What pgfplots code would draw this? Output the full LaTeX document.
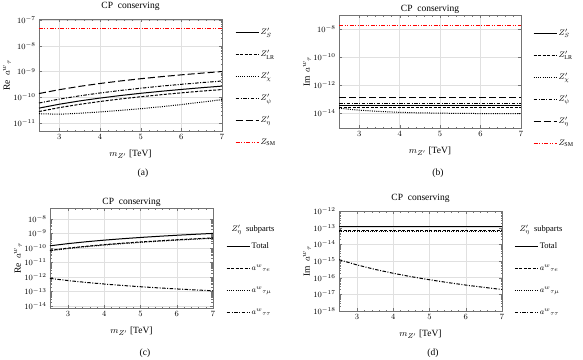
\documentclass[border=0pt]{standalone}
\usepackage{fontspec}
\setmainfont{Liberation Serif}
\usepackage{pgfplots}
\pgfplotsset{compat=1.18}

\tikzset{
  zs/.style={black, solid},
  zlr/.style={black, dash pattern=on 3pt off 1.5pt},
  zchi/.style={black, dash pattern=on 1pt off 1.2pt},
  zpsi/.style={black, dash pattern=on 3.5pt off 1.5pt on 1pt off 1.5pt},
  zeta/.style={black, dash pattern=on 7pt off 3pt},
  zsm/.style={red, dash pattern=on 4pt off 1.5pt on 1pt off 1.5pt on 1pt off 1.5pt},
}

\pgfplotsset{
  panel/.style={
    scale only axis, anchor=north west,
    xmin=2.5, xmax=7, xtick={3,4,5,6,7}, minor x tick num=4,
    grid=major, major grid style={black!12, line width=0.5pt},
    axis line style={black!55}, tick style={black!55},
    major tick length=3pt, minor tick length=1.5pt,
    tick label style={font=\fontsize{8.5}{9}\selectfont},
    title={CP\ \ conserving},
    every axis title/.style={at={(axis description cs:0.5,1)}, anchor=center,
      font=\fontsize{9.5}{10}\selectfont},
    xlabel={$m_{Z'}$ [TeV]},
    every axis x label/.style={at={(axis description cs:0.5,0)}, anchor=center,
      yshift=-23.5pt, font=\fontsize{9.5}{10}\selectfont},
    every axis y label/.style={at={(axis description cs:0,0.5)}, rotate=90,
      anchor=center, yshift=32pt, font=\fontsize{9.5}{10}\selectfont},
    every axis plot/.append style={line width=1pt},
    legend image code/.code={\draw[##1] (0pt,0pt) -- (23pt,0pt);},
    legend style={anchor=north west, draw=none, fill=none, inner sep=0pt,
      row sep=9pt, font=\fontsize{8.5}{9}\selectfont,
      nodes={inner sep=1.5pt, text height=7pt, text depth=3pt}},
    legend cell align=left,
  },
}

\begin{document}
\begin{tikzpicture}
\useasboundingbox (0,0) rectangle (583pt,-359pt);

% (a)
\begin{semilogyaxis}[panel, at={(39pt,-19pt)}, width=183pt, height=112pt,
  ymin=4.9e-12, ymax=1.1e-7, ytick={1e-11,1e-10,1e-9,1e-8,1e-7},
  ylabel={Re\ \,$a^{w}{}_{\tau}$},
  title style={yshift=13pt},
  legend style={at={(axis description cs:1.071,0.94)}}]
\addplot[zs] coordinates {(2.5,3.8e-11) (3,5.38e-11) (3.5,7.23e-11) (4,9.33e-11) (4.5,1.17e-10) (5,1.43e-10) (5.5,1.71e-10) (6,2.02e-10) (6.5,2.36e-10) (7,2.72e-10)};
\addlegendentry{$Z'_{S}$}
\addplot[zlr] coordinates {(2.5,2.8e-11) (3,3.97e-11) (3.5,5.33e-11) (4,6.87e-11) (4.5,8.61e-11) (5,1.05e-10) (5.5,1.26e-10) (6,1.49e-10) (6.5,1.74e-10) (7,2.0e-10)};
\addlegendentry{$Z'_{\mathrm{LR}}$}
\addplot[zchi] coordinates {(2.5,2.3e-11) (3,2.2e-11) (3.5,2.4e-11) (4,2.7e-11) (4.5,3.1e-11) (5,3.6e-11) (5.5,4.3e-11) (6,5.2e-11) (6.5,6.5e-11) (7,8.1e-11)};
\addlegendentry{$Z'_{\chi}$}
\addplot[zpsi] coordinates {(2.5,6.0e-11) (3,8.5e-11) (3.5,1.14e-10) (4,1.47e-10) (4.5,1.84e-10) (5,2.25e-10) (5.5,2.71e-10) (6,3.19e-10) (6.5,3.72e-10) (7,4.29e-10)};
\addlegendentry{$Z'_{\psi}$}
\addplot[zeta] coordinates {(2.5,1.40e-10) (3,1.98e-10) (3.5,2.66e-10) (4,3.44e-10) (4.5,4.30e-10) (5,5.26e-10) (5.5,6.31e-10) (6,7.45e-10) (6.5,8.68e-10) (7,1.00e-9)};
\addlegendentry{$Z'_{\eta}$}
\addplot[zsm] coordinates {(2.5,4.5e-8) (7,4.5e-8)};
\addlegendentry{$Z_{\mathrm{SM}}$}
\end{semilogyaxis}

% (b)
\begin{semilogyaxis}[panel, at={(339pt,-15pt)}, width=182pt, height=113pt,
  ymin=8.5e-16, ymax=1.02e-7, ytick={1e-14,1e-12,1e-10,1e-8},
  ylabel={Im\ \,$a^{w}{}_{\tau}$},
  title style={yshift=6pt},
  legend style={at={(axis description cs:1.066,0.90)}}]
\addplot[zs] coordinates {(2.5,3.7e-14) (7,3.7e-14)};
\addlegendentry{$Z'_{S}$}
\addplot[zlr] coordinates {(2.5,2.4e-14) (7,2.4e-14)};
\addlegendentry{$Z'_{\mathrm{LR}}$}
\addplot[zchi] coordinates {(2.5,2.2e-14) (3,1.6e-14) (3.5,1.3e-14) (4,1.12e-14) (4.5,1.03e-14) (5,9.8e-15) (5.5,9.4e-15) (6,9.2e-15) (6.5,9.1e-15) (7,9.0e-15)};
\addlegendentry{$Z'_{\chi}$}
\addplot[zpsi] coordinates {(2.5,5.1e-14) (7,5.1e-14)};
\addlegendentry{$Z'_{\psi}$}
\addplot[zeta] coordinates {(2.5,1.23e-13) (7,1.23e-13)};
\addlegendentry{$Z'_{\eta}$}
\addplot[red, draw=red, line width=1pt,
  dash pattern=on 4pt off 1.5pt on 1pt off 1.5pt on 1pt off 1.5pt]
  coordinates {(2.5,1.73e-8) (4.75,1.73e-8) (7,1.73e-8)};
\addlegendentry{$Z_{\mathrm{SM}}$}
\end{semilogyaxis}

% (c)
\begin{semilogyaxis}[panel, at={(50pt,-208pt)}, width=163pt, height=100pt,
  ymin=7.3e-15, ymax=5.6e-8, ytick={1e-14,1e-13,1e-12,1e-11,1e-10,1e-9,1e-8},
  ylabel={Re\ \,$a^{w}{}_{\tau}$},
  title style={yshift=6pt},
  legend style={at={(axis description cs:1.08,0.68)}}]
\addplot[zs] coordinates {(2.5,1.40e-10) (3,1.98e-10) (3.5,2.66e-10) (4,3.44e-10) (4.5,4.30e-10) (5,5.26e-10) (5.5,6.31e-10) (6,7.45e-10) (6.5,8.68e-10) (7,1.00e-9)};
\addlegendentry{Total}
\addplot[zlr] coordinates {(2.5,6.86e-11) (3,9.70e-11) (3.5,1.30e-10) (4,1.69e-10) (4.5,2.11e-10) (5,2.58e-10) (5.5,3.09e-10) (6,3.65e-10) (6.5,4.25e-10) (7,4.90e-10)};
\addlegendentry{$a^{w}{}_{\tau e}$}
\addplot[zchi] coordinates {(2.5,6.44e-11) (3,9.11e-11) (3.5,1.22e-10) (4,1.58e-10) (4.5,1.98e-10) (5,2.42e-10) (5.5,2.90e-10) (6,3.43e-10) (6.5,3.99e-10) (7,4.60e-10)};
\addlegendentry{$a^{w}{}_{\tau\mu}$}
\addplot[zpsi] coordinates {(2.5,8.0e-13) (3,5.65e-13) (3.5,4.21e-13) (4,3.26e-13) (4.5,2.60e-13) (5,2.13e-13) (5.5,1.77e-13) (6,1.50e-13) (6.5,1.29e-13) (7,1.12e-13)};
\addlegendentry{$a^{w}{}_{\tau\tau}$}
\end{semilogyaxis}

% (d)
\begin{semilogyaxis}[panel, at={(339pt,-211pt)}, width=163pt, height=100pt,
  ymin=1e-18, ymax=1e-12, ytick={1e-18,1e-17,1e-16,1e-15,1e-14,1e-13,1e-12},
  ylabel={Im\ \,$a^{w}{}_{\tau}$},
  title style={yshift=13pt},
  legend style={at={(axis description cs:1.074,0.71)}}]
\addplot[zs] coordinates {(2.5,1.25e-13) (7,1.25e-13)};
\addlegendentry{Total}
\addplot[zlr] coordinates {(2.5,6.4e-14) (7,6.4e-14)};
\addlegendentry{$a^{w}{}_{\tau e}$}
\addplot[zchi] coordinates {(2.5,5.6e-14) (7,5.6e-14)};
\addlegendentry{$a^{w}{}_{\tau\mu}$}
\addplot[zpsi] coordinates {(2.5,1.2e-15) (3,5.8e-16) (3.5,3.12e-16) (4,1.83e-16) (4.5,1.14e-16) (5,7.5e-17) (5.5,5.1e-17) (6,3.6e-17) (6.5,2.63e-17) (7,1.95e-17)};
\addlegendentry{$a^{w}{}_{\tau\tau}$}
\end{semilogyaxis}

\node[font=\fontsize{8.5}{9}\selectfont] at (253pt,-230pt) {$Z'_{\eta}$\ \ subparts};
\node[font=\fontsize{8.5}{9}\selectfont] at (541pt,-230pt) {$Z'_{\eta}$\ \ subparts};
\node[font=\fontsize{9.5}{10}\selectfont] at (143pt,-173pt) {(a)};
\node[font=\fontsize{9.5}{10}\selectfont] at (438pt,-173pt) {(b)};
\node[font=\fontsize{9.5}{10}\selectfont] at (145pt,-353pt) {(c)};
\node[font=\fontsize{9.5}{10}\selectfont] at (433pt,-353pt) {(d)};
\end{tikzpicture}
\end{document}
